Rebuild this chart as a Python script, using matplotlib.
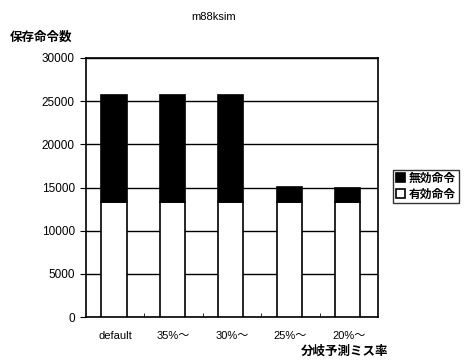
import numpy as np
import matplotlib
matplotlib.use("Agg")
import matplotlib.pyplot as plt

plt.rcParams['font.family'] = ['Liberation Sans', 'Noto Sans CJK JP', 'DejaVu Sans']

categories = ['default', '35%～', '30%～', '25%～', '20%～']
valid = [13300, 13300, 13300, 13300, 13300]      # 有効命令
total = [25700, 25700, 25700, 15100, 14900]      # 保存命令数
invalid = [t - v for t, v in zip(total, valid)]  # 無効命令

fig = plt.figure(figsize=(4.66, 3.6), dpi=100)
ax = fig.add_axes([86 / 466, 1 - 317 / 360, 292 / 466, 259 / 360])

x = np.arange(len(categories))
w = 0.43
ax.bar(x - 0.02, valid, w, color='white', edgecolor='black', linewidth=1.2,
       label='有効命令', zorder=3)
ax.bar(x - 0.02, invalid, w, bottom=valid, color='black', edgecolor='black',
       linewidth=1.2, label='無効命令', zorder=3)

ax.set_xlim(-0.5, len(categories) - 0.5)
ax.set_ylim(0, 30000)
ax.set_yticks(np.arange(0, 30001, 5000))
ax.yaxis.grid(True, color='black', linewidth=1.0, zorder=0)
ax.set_axisbelow(True)

ax.set_xticks(x)
ax.set_xticklabels(categories, fontsize=8)
ax.tick_params(axis='x', length=0, pad=10)
ax.set_xticks(x[:-1] + 0.5, minor=True)
ax.tick_params(axis='x', which='minor', direction='in', length=3)
ax.tick_params(axis='y', labelsize=8.5, length=4, direction='out', pad=4)
for s in ax.spines.values():
    s.set_color('black')
    s.set_linewidth(1.2)

fig.text(214 / 466, 1 - 17 / 360, 'm88ksim', fontsize=8, ha='center', va='center')
fig.text(10 / 466, 1 - 38 / 360, '保存命令数', fontsize=9, fontweight='bold',
         ha='left', va='center')
fig.text(388 / 466, 1 - 352 / 360, '分岐予測ミス率', fontsize=9, fontweight='bold',
         ha='right', va='center')

h, l = ax.get_legend_handles_labels()
leg = fig.legend(h[::-1], l[::-1], loc='upper left',
                 bbox_to_anchor=(393 / 466, 1 - 170 / 360), fontsize=8.5,
                 frameon=True, fancybox=False, handlelength=0.8, handleheight=0.8,
                 handletextpad=0.3, borderpad=0.25, labelspacing=0.3,
                 borderaxespad=0, prop={'weight': 'bold', 'size': 8.5})
leg.get_frame().set_edgecolor('black')
leg.get_frame().set_linewidth(1.0)

fig.savefig('out.png', dpi=100)
